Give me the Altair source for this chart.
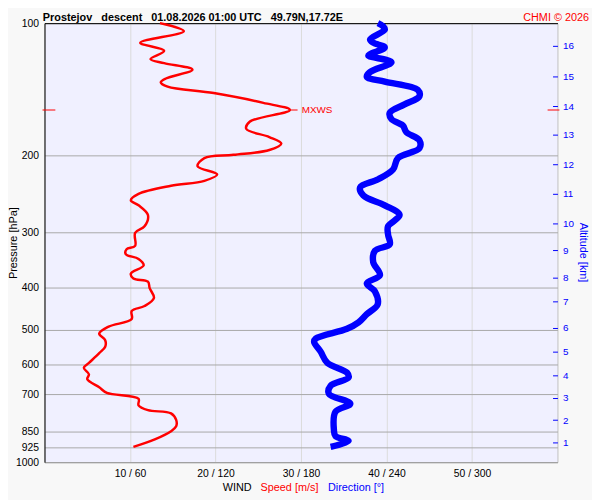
import altair as alt
import pandas as pd

# ---------------- data ----------------
speed_pressure = [100.0, 104.3, 110.8, 115.6, 120.7, 123.3, 127.6, 133.7, 136.4, 139.5,
                  144.3, 151.9, 157.7, 167.7, 174.1, 181.7, 187.9, 194.5, 199.5, 202.9,
                  211.8, 221.0, 228.7, 234.7, 244.9, 253.4, 260.0, 273.6, 290.3, 300.5,
                  321.6, 327.3, 335.7, 344.4, 356.3, 371.9, 381.6, 388.1, 401.6, 422.7,
                  441.0, 452.5, 472.1, 491.1, 509.7, 527.5, 545.9, 564.7, 594.3, 609.7,
                  631.0, 647.3, 675.4, 695.4, 717.1, 742.1, 761.3, 774.3, 801.3, 828.8,
                  850.3, 887.6, 922.8]
speed_ms = [13.5, 16.3, 11.2, 14.0, 12.4, 14.0, 17.3, 14.2, 13.6, 14.4,
            19.8, 25.6, 28.7, 24.0, 23.6, 26.3, 27.7, 26.3, 22.1, 18.7,
            17.9, 20.2, 18.7, 14.8, 11.0, 10.1, 11.0, 12.1, 11.7, 10.6,
            10.6, 9.6, 9.5, 11.0, 11.6, 10.1, 10.4, 12.1, 12.3, 12.8,
            11.7, 10.2, 10.2, 7.5, 6.4, 7.1, 7.1, 6.4, 5.2, 4.6,
            5.2, 5.0, 6.4, 7.3, 11.0, 11.0, 12.1, 14.8, 15.4, 15.4,
            14.8, 12.9, 10.4]

dir_pressure = [100.0, 101.7, 103.5, 108.9, 110.8, 113.6, 117.6, 118.6, 122.7, 129.2,
                132.5, 135.9, 141.8, 146.8, 153.1, 159.9, 165.4, 171.1, 177.1, 184.8,
                192.8, 202.9, 215.5, 226.8, 236.6, 247.0, 260.0, 273.6, 290.3, 303.1,
                319.0, 330.0, 350.3, 375.0, 391.5, 408.4, 437.2, 460.2, 480.4, 496.9,
                523.0, 532.1, 560.1, 594.3, 625.5, 641.7, 669.9, 699.0, 735.7, 767.6,
                843.4, 872.3, 894.9, 922.8]
direction_deg = [234.0, 237.7, 238.8, 228.5, 230.7, 238.8, 228.5, 227.3, 243.5, 228.5,
                 226.2, 238.8, 261.9, 263.1, 252.7, 242.3, 243.5, 251.5, 253.9, 263.1,
                 263.1, 248.1, 244.6, 234.2, 221.5, 223.8, 238.8, 249.2, 241.1, 241.1,
                 242.3, 231.9, 230.7, 235.4, 226.2, 231.9, 233.8, 226.2, 220.4, 212.3,
                 190.4, 189.2, 193.8, 198.5, 212.3, 213.4, 200.8, 199.6, 214.6, 204.2,
                 203.1, 204.2, 213.4, 200.8]

pressure_levels = [100, 200, 300, 400, 500, 600, 700, 850, 925, 1000]
speed_ticks = [10, 20, 30, 40, 50]
altitude_km = list(range(1, 17))
altitude_pressure = [903, 802, 713.5, 634, 561, 493.5, 430, 380, 329.5, 285.5,
                     244.8, 210, 179.2, 154.5, 132, 112.7]
mxws_pressure = [157.7]
mxws_speed = [28.7]

title_text = "Prostejov\u00a0\u00a0\u00a0descent\u00a0\u00a0\u00a001.08.2026 01:00 UTC\u00a0\u00a0\u00a049.79N,17.72E"

# ---------------- chart ----------------
W, H = 520, 445
FONT = "Liberation Sans"
RED = "#ff0000"
BLUE = "#0000ff"

speed_df = pd.DataFrame({"p": speed_pressure, "v": speed_ms, "i": range(len(speed_ms))})
dir_df = pd.DataFrame({"p": dir_pressure, "v": direction_deg, "i": range(len(direction_deg))})
mx_df = pd.DataFrame({"p": mxws_pressure, "v": mxws_speed, "label": ["MXWS"]})
one = pd.DataFrame({"k": [0]})

yscale = alt.Scale(type="log", domain=[100, 1000], reverse=True, nice=False)
sx = alt.Scale(domain=[0, 60], nice=False, zero=True)
dsx = alt.Scale(domain=[0, 360], nice=False, zero=True)

km_expr = ("[" + ",".join(f"'{k}'" for k in altitude_km) + "][indexof(["
           + ",".join(str(p) for p in altitude_pressure) + "], datum.value)]")

speed_line = alt.Chart(speed_df).mark_line(
    color=RED, strokeWidth=2.5, interpolate="catmull-rom"
).encode(
    x=alt.X("v:Q", scale=sx, axis=alt.Axis(
        values=speed_ticks, labelExpr="datum.value + ' / ' + datum.value * 6",
        grid=True, gridColor="#dadada", ticks=False, domainColor="#a0a0a0",
        labelPadding=7, labelFlush=False, title=None, labelFontSize=10.5)),
    y=alt.Y("p:Q", scale=yscale, axis=alt.Axis(
        values=pressure_levels, format="d", grid=True, gridColor="#a8a8a8", ticks=False,
        domainColor="#000000", labelPadding=6, labelOverlap=False, labelFontSize=10.5,
        title="Pressure [hPa]", titleFontWeight="normal", titleFontSize=11,
        titleX=-28, titleBaseline="alphabetic")),
    order="i:Q",
)

dir_line = alt.Chart(dir_df).mark_line(
    color=BLUE, strokeWidth=6.5, interpolate="catmull-rom"
).encode(
    x=alt.X("v:Q", scale=dsx, axis=alt.Axis(
        orient="top", labels=False, ticks=False, grid=False,
        domainColor="#000000", title=None)),
    y=alt.Y("p:Q", scale=yscale, axis=alt.Axis(
        orient="right", values=altitude_pressure, labelExpr=km_expr, offset=-5,
        domain=False, ticks=True, tickSize=5, tickColor=BLUE, labelColor=BLUE,
        labelPadding=5, labelFontSize=10, grid=False, labelOverlap=False,
        title="Altitude [km]", titleColor=BLUE, titleFontWeight="normal",
        titleFontSize=11, titleAngle=90, titleX=30, titleY=232,
        titleBaseline="middle", titleAlign="center")),
    order="i:Q",
)

mx_conn = alt.Chart(mx_df).transform_calculate(v2="datum.v + 0.9").mark_rule(
    color=RED, strokeWidth=1
).encode(
    x=alt.X("v:Q", scale=sx, axis=None), x2="v2:Q",
    y=alt.Y("p:Q", scale=yscale, axis=None),
)
mx_text = alt.Chart(mx_df).mark_text(
    color=RED, align="left", baseline="middle", dx=12, fontSize=10
).encode(
    x=alt.X("v:Q", scale=sx, axis=None),
    y=alt.Y("p:Q", scale=yscale, axis=None),
    text="label:N",
)
mx_left = alt.Chart(mx_df).mark_rule(color=RED, strokeWidth=1).encode(
    x=alt.value(-2), x2=alt.value(11), y=alt.Y("p:Q", scale=yscale, axis=None))
mx_right = alt.Chart(mx_df).mark_rule(color=RED, strokeWidth=1).encode(
    x=alt.value(510), x2=alt.value(522), y=alt.Y("p:Q", scale=yscale, axis=None))


def label(text, x, y, color="#000000", size=11, weight="normal", align="left",
          baseline="middle"):
    return alt.Chart(one).mark_text(
        text=text, color=color, fontSize=size, fontWeight=weight, align=align,
        baseline=baseline
    ).encode(x=alt.value(x), y=alt.value(y))


texts = [
    label(title_text, -1.7, -2.5, size=11, weight="bold", baseline="alphabetic"),
    label("CHMI \u00a9 2026", 552, -2.5, color=RED, size=11, align="right",
          baseline="alphabetic"),
    label("WIND", 180.7, 471),
    label("Speed [m/s]", 219, 471, color=RED),
    label("Direction [\u00b0]", 287.3, 471, color=BLUE),
]

chart = alt.layer(
    speed_line, dir_line, mx_conn, mx_text, mx_left, mx_right, *texts
).resolve_scale(x="independent").resolve_axis(
    x="independent", y="independent"
).properties(
    width=W, height=H,
    padding={"left": 37, "top": 12, "right": 35, "bottom": 35},
    autosize=alt.AutoSizeParams(type="none"),
).configure(
    background="#f8f8f8", font=FONT
).configure_view(
    fill="#f0f0ff", stroke="#c0c0c0"
).configure_axis(
    labelColor="#000000", labelFont=FONT, titleFont=FONT, titleColor="#000000"
)

chart.save("out.html", embed_options={"renderer": "svg", "actions": False})
